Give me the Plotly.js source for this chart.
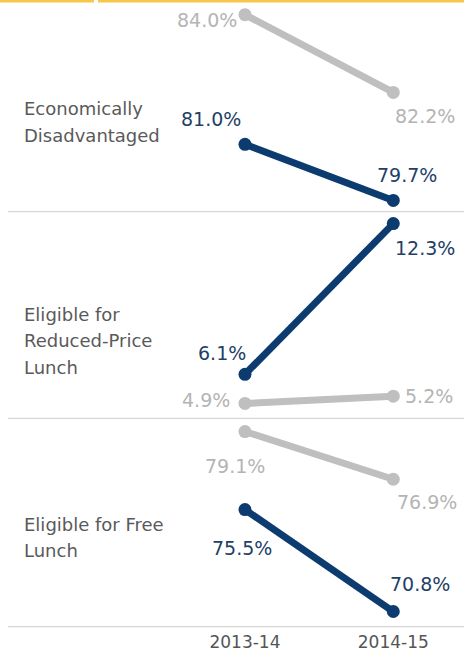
<!DOCTYPE html>
<html>
<head>
<meta charset="utf-8">
<script src="https://cdn.plot.ly/plotly-3.0.1.min.js"></script>
<style>
html,body{margin:0;padding:0;background:#fff;}
#chart{width:464px;height:653px;}
</style>
</head>
<body>
<div id="chart"></div>
<script>
// ---- data ----
const years = ["2013-14", "2014-15"];
const categories = ["Economically<br>Disadvantaged", "Eligible for<br>Reduced-Price<br>Lunch", "Eligible for Free<br>Lunch"];
const econBlue = [81.0, 79.7];
const econGray = [84.0, 82.2];
const reducedBlue = [6.1, 12.3];
const reducedGray = [4.9, 5.2];
const freeBlue = [75.5, 70.8];
const freeGray = [79.1, 76.9];

// ---- style ----
const BLUE = "#0c3b6f", GRAY = "#bfbfbf";
const BLUE_TXT = "#233f66", GRAY_TXT = "#b4b4b4", LABEL_TXT = "#5a5a5a";
const FONT = "DejaVu Sans";
const W = 464, H = 653, MB = 26, PH = H - MB;
const py = px => 1 - px / PH;   // pixel-from-top -> paper y
const bounds = [0, 211.7, 418.3, 626.7];
const axisNames = ["y", "y2", "y3"];
const ranges = [[79.44, 84.34], [4.29, 12.79], [70.10, 79.71]];
const panels = [
  {blue: econBlue, gray: econGray},
  {blue: reducedBlue, gray: reducedGray},
  {blue: freeBlue, gray: freeGray}
];
// label offsets per panel: [xanchor, xshift, yshift]
const offsets = [
  {blue: [["right", -2, 25], ["left", -18, 25]], gray: [["right", -6, -5], ["left", 0, -24]]},
  {blue: [["right", 3, 21], ["left", 0, -24]], gray: [["right", -13, 3], ["left", 10, 0]]},
  {blue: [["center", -3, -38], ["left", -5, 28]], gray: [["center", -10, -34], ["left", 2, -23]]}
];
const labelFirstLine = [107.5, 313, 523];
const labelLineGap = 26.5;

const traces = [];
const annotations = [];
panels.forEach((p, i) => {
  const ax = axisNames[i];
  [["gray", GRAY], ["blue", BLUE]].forEach(([key, col]) => {
    traces.push({
      x: years, y: p[key], yaxis: ax, xaxis: "x",
      type: "scatter", mode: "lines+markers",
      line: {color: col, width: 7},
      marker: {color: col, size: 13},
      cliponaxis: false, hoverinfo: "skip", showlegend: false
    });
    p[key].forEach((v, j) => {
      const o = offsets[i][key][j];
      annotations.push({
        x: years[j], y: v, xref: "x", yref: ax,
        text: v.toFixed(1) + "%", showarrow: false,
        xanchor: o[0], yanchor: "middle", xshift: o[1], yshift: o[2],
        font: {family: FONT, size: 19, color: key === "blue" ? BLUE_TXT : GRAY_TXT}
      });
    });
  });
  categories[i].split("<br>").forEach((line, k) => {
    annotations.push({
      x: 22 / W, y: py(labelFirstLine[i] + k * labelLineGap + 1), xref: "paper", yref: "paper",
      text: line, showarrow: false, xanchor: "left", yanchor: "middle",
      font: {family: FONT, size: 18, color: LABEL_TXT}
    });
  });
});

const shapes = [];
bounds.slice(1).forEach(b => {
  shapes.push({type: "line", xref: "paper", yref: "paper", x0: 8 / W, x1: 1, y0: py(b), y1: py(b),
    line: {color: "#d6d6d6", width: 1.3}, layer: "below"});
});
shapes.push({type: "rect", xref: "paper", yref: "paper", x0: 0, x1: 94 / W, y0: py(2.5), y1: 1,
  fillcolor: "#f8c64c", line: {width: 0}, layer: "below"});
shapes.push({type: "rect", xref: "paper", yref: "paper", x0: 98 / W, x1: 1, y0: py(2.5), y1: 1,
  fillcolor: "#f8c64c", line: {width: 0}, layer: "below"});

const layout = {
  width: W, height: H,
  margin: {l: 0, r: 0, t: 0, b: MB, pad: 0},
  paper_bgcolor: "#fff", plot_bgcolor: "#fff",
  showlegend: false,
  xaxis: {
    type: "category", categoryarray: years, range: [-1.652, 1.477],
    anchor: "y3", showgrid: false, zeroline: false, showline: false,
    ticks: "", ticklen: 0, ticklabelstandoff: 3,
    tickfont: {family: FONT, size: 17, color: "#555"}, fixedrange: true
  },
  shapes: shapes,
  annotations: annotations
};
axisNames.forEach((ax, i) => {
  const key = i === 0 ? "yaxis" : "yaxis" + (i + 1);
  layout[key] = {
    domain: [py(bounds[i + 1]), py(bounds[i])],
    range: ranges[i], visible: false, showgrid: false, zeroline: false, fixedrange: true
  };
});

Plotly.newPlot("chart", traces, layout, {displayModeBar: false, staticPlot: true});
</script>
</body>
</html>
